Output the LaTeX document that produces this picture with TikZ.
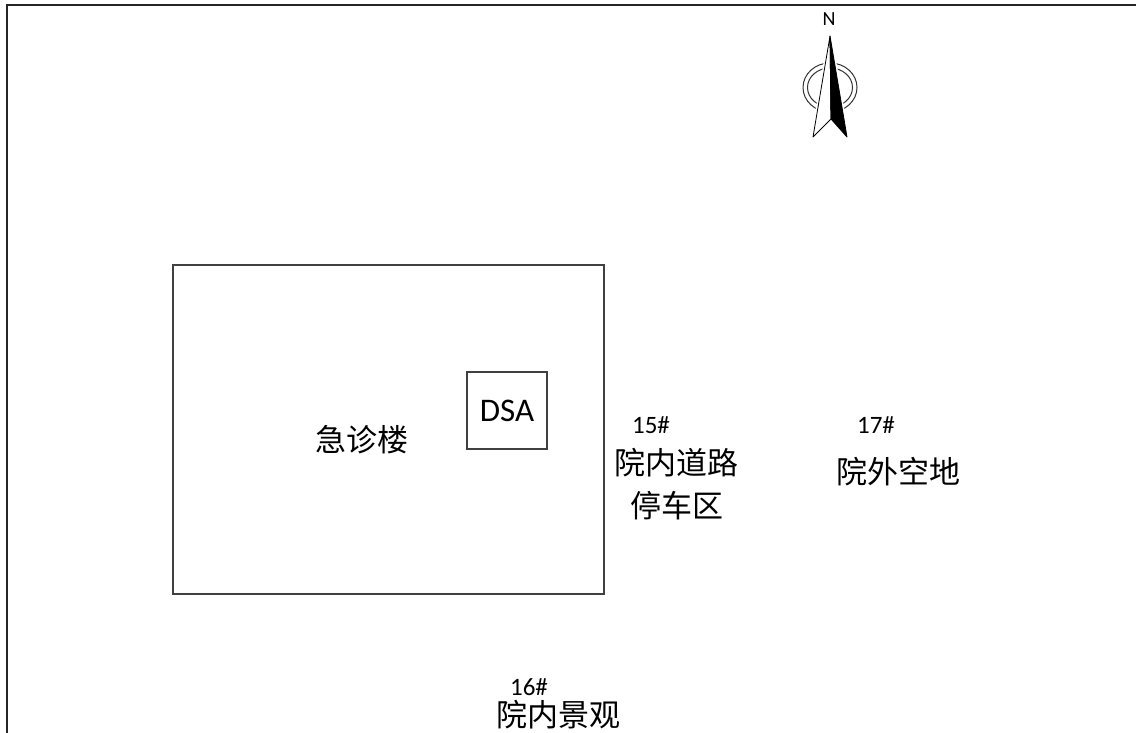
\documentclass[tikz,border=0pt]{standalone}
\usepackage{fontspec}
\setmainfont{Carlito}
\newfontfamily\cjk{Noto Sans CJK SC}
\begin{document}
\begin{tikzpicture}[x=1pt,y=-1pt,
  frame/.style={line width=2pt,draw=black!85},
  room/.style={line width=2pt,draw=black!75},
  cjklabel/.style={font=\cjk\fontsize{31}{36}\selectfont,inner sep=0pt,align=center},
  numlabel/.style={font=\fontsize{25}{29}\selectfont,inner sep=0pt},
  ringline/.style={line width=1pt,draw=black!80}]
\useasboundingbox (0,0) rectangle (1136,733);
% frame
\coordinate (ftl) at (7,5);
\coordinate (ftr) at (1136,5);
\coordinate (fbl) at (7,733);
\draw[frame] (fbl) -- (ftl) -- (ftr);
% building
\node[room,draw,minimum width=431pt,minimum height=329pt,inner sep=0pt] (bldg) at (388.5,429.5) {};
\node[room,draw,minimum width=80pt,minimum height=77pt,inner sep=0pt,font=\fontsize{33}{37}\selectfont] (dsa) at (507,410.5) {DSA};
\node[cjklabel] (jzl) at (362,440) {急诊楼};
% labels
\node[numlabel] (n15) at (651,425) {15\#};
\node[cjklabel] (road) at (676,463) {院内道路};
\node[cjklabel] (park) at (677,506) {停车区};
\node[numlabel] (n17) at (876,425) {17\#};
\node[cjklabel] (out) at (898,472) {院外空地};
\node[numlabel] (n16) at (529,687) {16\#};
\node[cjklabel] (land) at (558,715) {院内景观};
% compass
\node[font=\fontsize{20}{22}\selectfont,inner sep=0pt] (north) at (829,19) {N};
\draw[ringline] (830,87.5) ellipse [x radius=27,y radius=24.5];
\draw[ringline] (830,87.5) ellipse [x radius=22.5,y radius=19.5];
\coordinate (tip) at (830,36);
\coordinate (bl) at (813,137);
\coordinate (br) at (847,137);
\coordinate (mid) at (831,119);
\draw[white,line width=4pt,line join=round] (tip) -- (bl) -- (mid) -- (br) -- cycle;
\fill[white] (tip) -- (bl) -- (mid) -- (br) -- cycle;
\draw[line width=0.8pt,fill=white,line join=round] (tip) -- (bl) -- (mid) -- cycle;
\fill[black] (tip) -- (mid) -- (br) -- cycle;
\draw[line width=0.8pt,line join=round] (tip) -- (mid) -- (br) -- cycle;
\end{tikzpicture}
\end{document}
